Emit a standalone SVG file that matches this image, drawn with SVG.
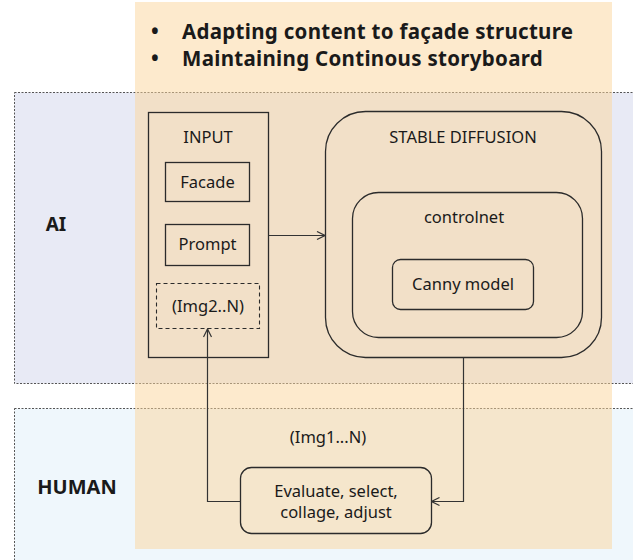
<svg xmlns="http://www.w3.org/2000/svg" width="633" height="560" viewBox="0 0 633 560">
<defs>
<style>
text{font-family:"Noto Sans","Open Sans","DejaVu Sans",sans-serif;fill:#1a1a1a}
.lbl{font-size:16.5px;text-anchor:middle}
.bold{font-weight:bold}
.box{fill:none;stroke:#2b2b2b;stroke-width:1.3}
.dash{fill:none;stroke:#2b2b2b;stroke-width:1.1;stroke-dasharray:4 3}
.band{stroke:#555;stroke-width:1;stroke-dasharray:2 1.5}
.conn{fill:none;stroke:#333;stroke-width:1.2}
</style>
<marker id="arr" viewBox="0 0 10 10" refX="9" refY="5" markerWidth="10" markerHeight="10" markerUnits="userSpaceOnUse" orient="auto">
<path d="M1,1 L9,5 L1,9" fill="none" stroke="#333" stroke-width="1.2"/>
</marker>
</defs>
<rect width="633" height="560" fill="#ffffff"/>
<g id="band-ai">
<rect class="band" x="14.5" y="92.5" width="630" height="291" fill="#e8eaf5"/>
<text x="56" y="231" class="bold" font-size="19" text-anchor="middle">AI</text>
</g>
<g id="band-human">
<rect class="band" x="14.5" y="408.5" width="630" height="160" fill="#eff7fc"/>
<text x="77" y="494" class="bold" font-size="20" text-anchor="middle">HUMAN</text>
</g>
<rect id="highlight" x="135" y="2" width="477" height="547" fill="#fbd59b" fill-opacity="0.5"/>
<g id="bullets" class="bold" font-size="20.5" letter-spacing="0.3">
<text x="151" y="39">•</text>
<text x="182" y="39">Adapting content to façade structure</text>
<text x="151" y="66">•</text>
<text x="182" y="66">Maintaining Continous storyboard</text>
</g>
<g id="input">
<rect class="box" x="148.5" y="112.5" width="120" height="245"/>
<text class="lbl" x="208" y="143">INPUT</text>
</g>
<g id="facade">
<rect class="box" x="165.5" y="162.5" width="84" height="39"/>
<text class="lbl" x="207.5" y="188">Facade</text>
</g>
<g id="prompt">
<rect class="box" x="165.5" y="224.5" width="84" height="41"/>
<text class="lbl" x="207.5" y="250">Prompt</text>
</g>
<g id="img2n">
<rect class="dash" x="156.5" y="283.5" width="103" height="45"/>
<text class="lbl" x="208" y="312">(Img2..N)</text>
</g>
<g id="stable-diffusion">
<rect class="box" x="325.5" y="111.5" width="276" height="246" rx="40"/>
<text class="lbl" x="463" y="143">STABLE DIFFUSION</text>
</g>
<g id="controlnet">
<rect class="box" x="352.5" y="192.5" width="230" height="145" rx="26"/>
<text class="lbl" x="464" y="223">controlnet</text>
</g>
<g id="canny">
<rect class="box" x="392.5" y="259.5" width="141" height="50" rx="8"/>
<text class="lbl" x="463" y="290">Canny model</text>
</g>
<g id="evaluate">
<rect class="box" x="240.5" y="467.5" width="191" height="66" rx="11"/>
<text class="lbl" x="336" y="496.5">Evaluate, select,</text>
<text class="lbl" x="336" y="518">collage, adjust</text>
</g>
<g id="img1n-label">
<text class="lbl" x="328" y="443">(Img1...N)</text>
</g>
<g id="connectors">
<path class="conn" d="M268.5,235.5 H325" marker-end="url(#arr)"/>
<path class="conn" d="M463.5,357.5 V501.5 H431.5" marker-end="url(#arr)"/>
<path class="conn" d="M240.5,501.5 H207.5 V329" marker-end="url(#arr)"/>
</g>
</svg>
